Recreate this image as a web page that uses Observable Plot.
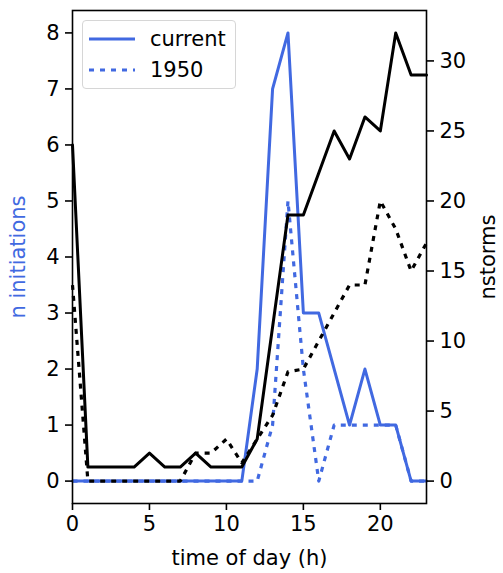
<!DOCTYPE html>
<html>
<head>
<meta charset="utf-8">
<script src="https://cdn.jsdelivr.net/npm/d3@7"></script>
<script src="https://cdn.jsdelivr.net/npm/@observablehq/plot@0.6"></script>
<style>
  html, body { margin: 0; padding: 0; background: white; }
  #wrap { position: relative; width: 503px; height: 573px; font-family: "DejaVu Sans", sans-serif; }
  #legend { position: absolute; left: 82px; top: 20px; width: 152px; height: 67px;
    border: 1.5px solid #d6d6d6; border-radius: 4px; background: rgba(255,255,255,0.85);
    font-size: 21px; color: black; }
  .item { position: absolute; left: 6px; height: 24px; display: flex; align-items: center; }
  .item span { margin-left: 15px; }
</style>
</head>
<body>
<div id="wrap"></div>
<script>
// ---- data ----
const hours = [0,1,2,3,4,5,6,7,8,9,10,11,12,13,14,15,16,17,18,19,20,21,22,23];
const initCurrent = [0,0,0,0,0,0,0,0,0,0,0,0,2,7,8,3,3,2,1,2,1,1,0,0];
const init1950    = [0,0,0,0,0,0,0,0,0,0,0,0,0,1,5,2,0,1,1,1,1,1,0,0];
const stormsCurrent = [24,1,1,1,1,2,1,1,2,1,1,1,3,11,19,19,22,25,23,26,25,32,29,29];
const storms1950    = [14,0,0,0,0,0,0,0,2,2,3,1.3,3,4.7,7.8,8,10,12,14,14,20,18,15,17];
const xTicks = [0,5,10,15,20];
const leftTicks = [0,1,2,3,4,5,6,7,8];
const rightTicks = [0,5,10,15,20,25,30];
const seriesNames = ["current", "1950"];

const blue = "#4169E1";
const ratio = 4; // right axis (nstorms) = 4 × left axis units
const rows = hours.map((h, i) => ({
  h, ic: initCurrent[i], i50: init1950[i],
  sc: stormsCurrent[i] / ratio, s50: storms1950[i] / ratio
}));
const dots = "5,6";

const chart = Plot.plot({
  width: 503, height: 573,
  marginLeft: 72, marginRight: 77, marginTop: 10, marginBottom: 70,
  style: { fontSize: "21px", fontFamily: "DejaVu Sans, sans-serif", background: "white", overflow: "visible" },
  x: { domain: [0, 23] },
  y: { domain: [-0.4, 8.4] },
  marks: [
    Plot.line(rows, { x: "h", y: "ic", stroke: blue, strokeWidth: 3 }),
    Plot.line(rows, { x: "h", y: "i50", stroke: blue, strokeWidth: 3.2, strokeDasharray: dots, strokeLinecap: "butt" }),
    Plot.line(rows, { x: "h", y: "sc", stroke: "black", strokeWidth: 3 }),
    Plot.line(rows, { x: "h", y: "s50", stroke: "black", strokeWidth: 3.2, strokeDasharray: dots, strokeLinecap: "butt" }),
    Plot.frame({ stroke: "black", strokeWidth: 1.6 }),
    Plot.axisX(xTicks, { tickSize: 7, tickPadding: 6, strokeWidth: 1.6, tickFormat: d => String(d),
      label: "time of day (h)", labelAnchor: "center", labelArrow: "none", labelOffset: 61 }),
    Plot.axisY(leftTicks, { anchor: "left", tickSize: 7, tickPadding: 6, strokeWidth: 1.6,
      tickFormat: d => String(d), label: null }),
    Plot.axisY(leftTicks, { anchor: "left", tickSize: 0, tickFormat: () => "", label: "n initiations",
      labelAnchor: "center", labelArrow: "none", labelOffset: 62, fill: blue }),
    Plot.axisY(rightTicks.map(t => t / ratio), { anchor: "right", tickSize: 7, tickPadding: 6, strokeWidth: 1.6,
      tickFormat: d => String(Math.round(d * ratio)), label: "nstorms",
      labelAnchor: "center", labelArrow: "none", labelOffset: 68 })
  ]
});

const wrap = document.getElementById("wrap");
wrap.appendChild(chart);

// legend
const legend = document.createElement("div");
legend.id = "legend";
seriesNames.forEach((name, i) => {
  const item = document.createElement("div");
  item.className = "item";
  item.style.top = (i === 0 ? 6 : 37) + "px";
  const svg = d3.create("svg").attr("width", 46).attr("height", 10);
  svg.append("line").attr("x1", 0).attr("x2", 46).attr("y1", 5).attr("y2", 5)
    .attr("stroke", blue).attr("stroke-width", 3.2)
    .attr("stroke-dasharray", i === 0 ? null : dots);
  item.appendChild(svg.node());
  const span = document.createElement("span");
  span.textContent = name;
  item.appendChild(span);
  legend.appendChild(item);
});
wrap.appendChild(legend);
</script>
</body>
</html>
